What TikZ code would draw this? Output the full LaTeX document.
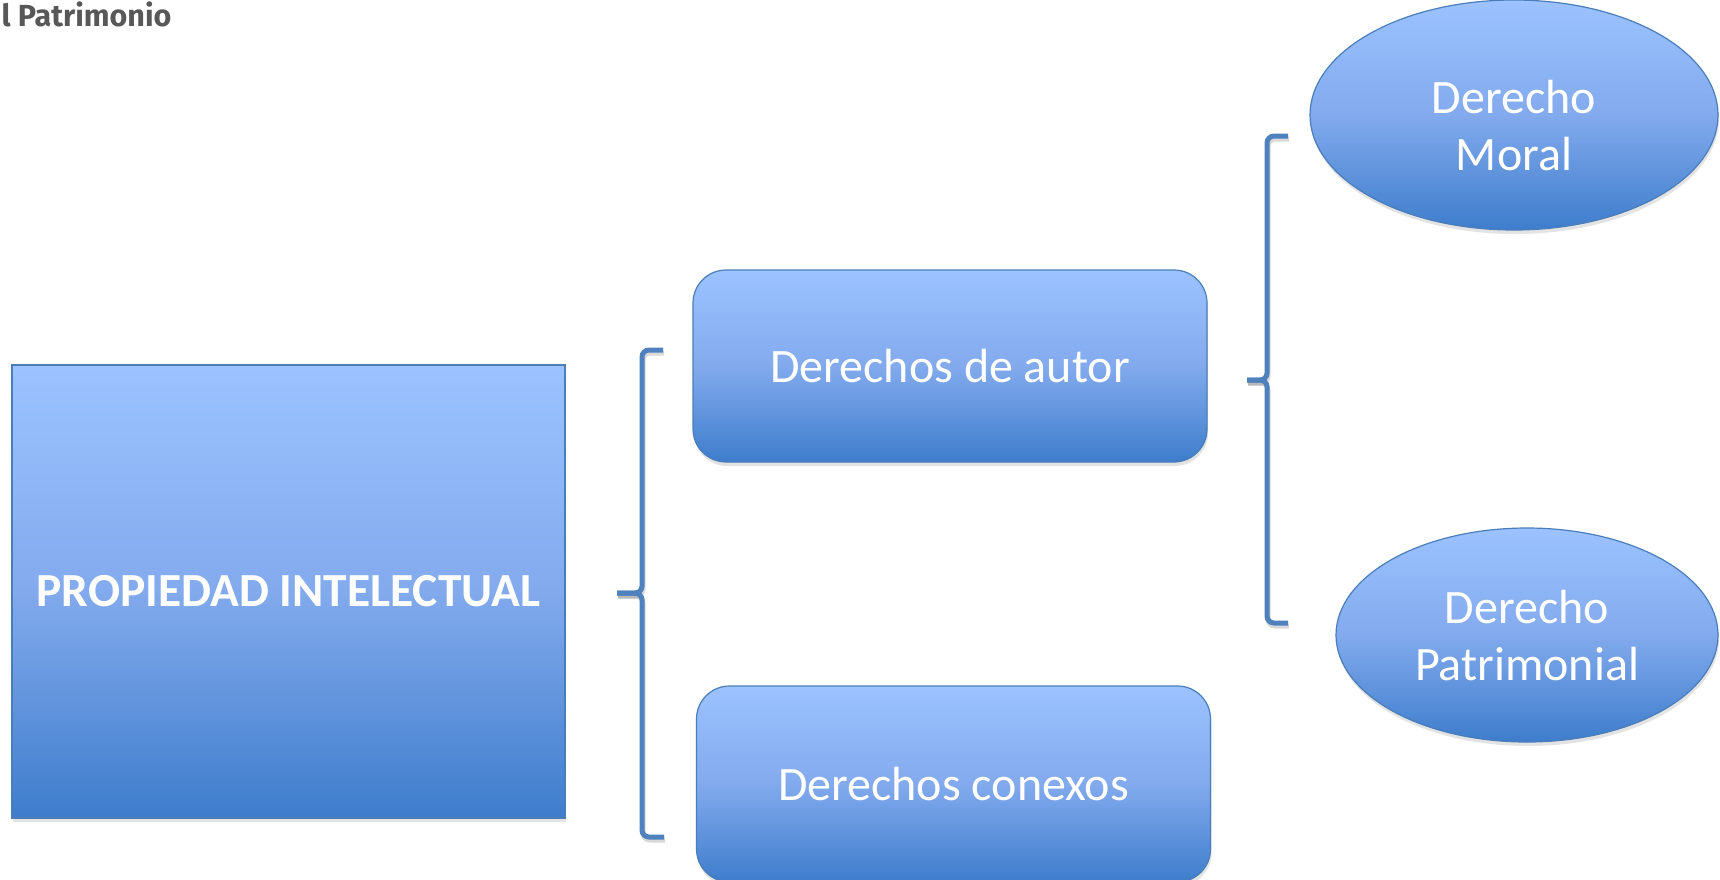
\documentclass[tikz,border=0pt]{standalone}
\usepackage{fontspec}
\setmainfont{Carlito}
\newfontfamily\titlefont{Fira Sans}
\usetikzlibrary{shapes.geometric,shadows}
\definecolor{topc}{RGB}{156,194,255}
\definecolor{midc}{RGB}{130,170,237}
\definecolor{botc}{RGB}{62,125,204}
\definecolor{edgec}{RGB}{74,126,187}
\definecolor{brkc}{RGB}{79,129,189}
\definecolor{titlec}{RGB}{88,88,88}
\tikzset{
  blueshade/.style={top color=topc, bottom color=botc, middle color=midc,
    draw=edgec, line width=1.2pt, text=white, inner sep=0pt,
    drop shadow={shadow xshift=1pt, shadow yshift=-4pt, opacity=0.22}},
  mainbox/.style={blueshade, rectangle, minimum width=553pt, minimum height=453pt,
    font=\fontsize{47.5}{56}\selectfont\bfseries},
  subbox/.style={blueshade, rectangle, rounded corners=33pt, minimum width=514pt,
    minimum height=192pt, font=\fontsize{48}{58}\selectfont},
  leaf/.style={blueshade, ellipse, align=center, font=\fontsize{48}{57}\selectfont},
  brk/.style={draw=brkc, line width=5pt, rounded corners=7pt, line cap=butt},
  brkshadow/.style={draw=black, opacity=0.15, line width=5pt, rounded corners=7pt,
    transform canvas={xshift=1pt, yshift=-3pt}},
}
\begin{document}
\begin{tikzpicture}[x=1pt,y=-1pt]
\useasboundingbox (0,0) rectangle (1720,879);
\fill[white] (0,0) rectangle (1720,879);

\node[anchor=base west, text=titlec, font=\titlefont\fontsize{30.5}{36}\selectfont\bfseries]
  (title) at (-2,26) {l Patrimonio};

\node[mainbox] (pi) at (288.5,591.5) {PROPIEDAD INTELECTUAL};
\node[subbox] (autor) at (950,366) {Derechos de autor};
\node[subbox, minimum height=196pt] (conexos) at (953.5,784) {Derechos conexos};
\node[leaf, minimum width=408pt, minimum height=230pt] (moral) at (1514,115) {\rule{0pt}{54pt}Derecho\\Moral};
\node[leaf, minimum width=382pt, minimum height=214pt] (patri) at (1527,635) {Derecho\\Patrimonial};

% bracket 1: pi -> autor / conexos
\coordinate (b1t) at (663,350);
\coordinate (b1tc) at (642,350);
\coordinate (b1mc) at (642,593);
\coordinate (b1m) at (617,593);
\coordinate (b1bc) at (642,837);
\coordinate (b1b) at (664,837);
\draw[brkshadow] (b1t) -- (b1tc) -- (b1mc) -- (b1m);
\draw[brkshadow] (b1m) -- (b1mc) -- (b1bc) -- (b1b);
\draw[brk] (b1t) -- (b1tc) -- (b1mc) -- (b1m);
\draw[brk] (b1m) -- (b1mc) -- (b1bc) -- (b1b);

% bracket 2: autor -> moral / patrimonial
\coordinate (b2t) at (1288,136);
\coordinate (b2tc) at (1267,136);
\coordinate (b2mc) at (1267,380);
\coordinate (b2m) at (1247,380);
\coordinate (b2bc) at (1267,623);
\coordinate (b2b) at (1288,623);
\draw[brkshadow] (b2t) -- (b2tc) -- (b2mc) -- (b2m);
\draw[brkshadow] (b2m) -- (b2mc) -- (b2bc) -- (b2b);
\draw[brk] (b2t) -- (b2tc) -- (b2mc) -- (b2m);
\draw[brk] (b2m) -- (b2mc) -- (b2bc) -- (b2b);
\end{tikzpicture}
\end{document}
